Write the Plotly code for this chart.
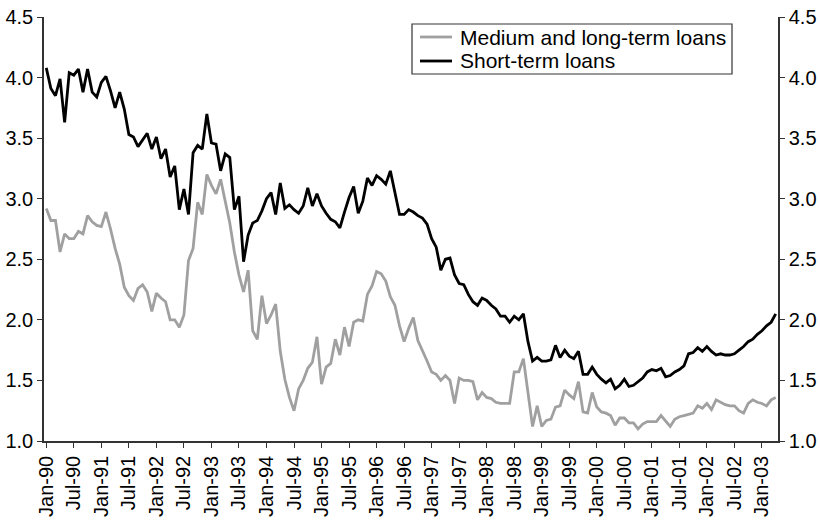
import pandas as pd
import plotly.graph_objects as go

# monthly, Jan-90 .. Apr-03
months = pd.date_range("1990-01-01", periods=160, freq="MS").strftime("%b-%y").tolist()

medium_long = [
    2.92, 2.82, 2.82, 2.56, 2.71, 2.67, 2.67, 2.73, 2.71, 2.86, 2.81, 2.78,
    2.77, 2.89, 2.75, 2.59, 2.46, 2.27, 2.20, 2.16, 2.26, 2.29, 2.23, 2.07,
    2.22, 2.18, 2.15, 2.00, 2.00, 1.94, 2.04, 2.49, 2.59, 2.97, 2.87, 3.20,
    3.11, 3.04, 3.16, 2.97, 2.80, 2.56, 2.37, 2.23, 2.41, 1.91, 1.84, 2.20,
    1.97, 2.04, 2.13, 1.74, 1.51, 1.36, 1.25, 1.43, 1.50, 1.60, 1.65, 1.86,
    1.47, 1.61, 1.64, 1.84, 1.71, 1.94, 1.78, 1.98, 2.00, 1.99, 2.21, 2.28,
    2.40, 2.38, 2.32, 2.19, 2.12, 1.95, 1.82, 1.93, 2.02, 1.83, 1.75, 1.66,
    1.57, 1.55, 1.50, 1.54, 1.50, 1.31, 1.52, 1.50, 1.50, 1.49, 1.34, 1.40,
    1.36, 1.35, 1.32, 1.31, 1.31, 1.31, 1.57, 1.57, 1.68, 1.40, 1.12, 1.29,
    1.12, 1.17, 1.18, 1.28, 1.29, 1.42, 1.38, 1.35, 1.49, 1.24, 1.23, 1.40,
    1.28, 1.24, 1.23, 1.21, 1.13, 1.19, 1.19, 1.15, 1.15, 1.10, 1.14, 1.16,
    1.16, 1.16, 1.21, 1.16, 1.12, 1.18, 1.20, 1.21, 1.22, 1.23, 1.29, 1.27,
    1.31, 1.26, 1.34, 1.32, 1.30, 1.29, 1.29, 1.25, 1.23, 1.31, 1.34, 1.32,
    1.31, 1.29, 1.34, 1.36,
]

short_term = [
    4.08, 3.91, 3.85, 3.99, 3.63, 4.04, 4.02, 4.07, 3.88, 4.07, 3.88, 3.84,
    3.96, 4.01, 3.89, 3.75, 3.88, 3.74, 3.53, 3.51, 3.43, 3.49, 3.54, 3.41,
    3.51, 3.33, 3.41, 3.18, 3.27, 2.91, 3.08, 2.87, 3.38, 3.44, 3.41, 3.70,
    3.46, 3.45, 3.23, 3.37, 3.34, 2.91, 3.02, 2.48, 2.70, 2.80, 2.82, 2.90,
    3.00, 3.05, 2.87, 3.13, 2.92, 2.95, 2.91, 2.88, 2.94, 3.09, 2.94, 3.04,
    2.94, 2.88, 2.83, 2.81, 2.76, 2.89, 3.01, 3.10, 2.88, 2.98, 3.17, 3.11,
    3.19, 3.16, 3.12, 3.23, 3.05, 2.87, 2.87, 2.91, 2.89, 2.86, 2.84, 2.79,
    2.67, 2.60, 2.41, 2.50, 2.51, 2.37, 2.30, 2.29, 2.21, 2.15, 2.12, 2.18,
    2.16, 2.12, 2.09, 2.03, 2.03, 1.98, 2.03, 2.00, 2.05, 1.82, 1.66, 1.69,
    1.66, 1.66, 1.67, 1.79, 1.69, 1.75, 1.70, 1.68, 1.74, 1.55, 1.55, 1.61,
    1.55, 1.51, 1.48, 1.51, 1.43, 1.46, 1.51, 1.45, 1.46, 1.49, 1.52, 1.57,
    1.59, 1.58, 1.60, 1.53, 1.54, 1.57, 1.59, 1.62, 1.72, 1.73, 1.77, 1.74,
    1.78, 1.74, 1.71, 1.72, 1.71, 1.71, 1.72, 1.75, 1.78, 1.82, 1.84, 1.88,
    1.91, 1.95, 1.98, 2.05,
]

series_names = ["Medium and long-term loans", "Short-term loans"]
series_colors = ["#a0a0a0", "black"]

x = list(range(len(months)))
tick_pos = x[::6]
tick_text = months[::6]

fig = go.Figure()
fig.add_trace(go.Scatter(x=x, y=medium_long, mode="lines", name=series_names[0],
                         line=dict(color=series_colors[0], width=2.8)))
fig.add_trace(go.Scatter(x=x, y=short_term, mode="lines", name=series_names[1],
                         line=dict(color=series_colors[1], width=2.8), yaxis="y2"))

font_family = "Liberation Sans, Arial, sans-serif"
axis_font = dict(family=font_family, size=20, color="black")
yax = dict(range=[1.0, 4.5], dtick=0.5, tickformat=".1f", showgrid=False, zeroline=False,
           showline=True, linecolor="#333", linewidth=1.5, ticks="outside", ticklen=5,
           tickcolor="#333", tickfont=axis_font, fixedrange=True, automargin=False)

# legend box drawn by hand so its rows are as tight as in the original
W, H = 820, 523
L, R, T, B = 44, 42, 17, 82
pw, ph = W - L - R, H - T - B
px = lambda v: (v - L) / pw
py = lambda v: (H - B - v) / ph

shapes = [dict(type="rect", xref="paper", yref="paper", x0=px(412), x1=px(732), y0=py(74), y1=py(24),
               line=dict(color="#333", width=1.2), fillcolor="white", layer="above")]
annotations = []
for i, (name, col) in enumerate(zip(series_names, series_colors)):
    yy = py(37 + 24 * i)
    shapes.append(dict(type="line", xref="paper", yref="paper", x0=px(420), x1=px(452), y0=yy, y1=yy,
                       line=dict(color=col, width=2.8), layer="above"))
    annotations.append(dict(xref="paper", yref="paper", x=px(458), y=yy, text=name, showarrow=False,
                            xanchor="left", yanchor="middle",
                            font=dict(family=font_family, size=21, color="black")))

fig.update_layout(
    width=W, height=H,
    margin=dict(l=L, r=R, t=T, b=B, autoexpand=False),
    plot_bgcolor="white", paper_bgcolor="white",
    font=axis_font,
    showlegend=False,
    xaxis=dict(range=[-0.5, 159.5], tickvals=tick_pos, ticktext=tick_text, tickangle=-90,
               showgrid=False, zeroline=False, showline=True, linecolor="#333", linewidth=1.5,
               ticks="outside", ticklen=5, tickcolor="#333", automargin=False, fixedrange=True,
               tickfont=dict(family=font_family, size=20, color="black")),
    yaxis=yax,
    yaxis2=dict(yax, overlaying="y", side="right"),
    shapes=shapes,
    annotations=annotations,
)

# drop the browser's default body margin so the figure sits at the page origin
fig.write_html("out.html", config={"displayModeBar": False},
               post_script="document.body.style.margin='0';")
